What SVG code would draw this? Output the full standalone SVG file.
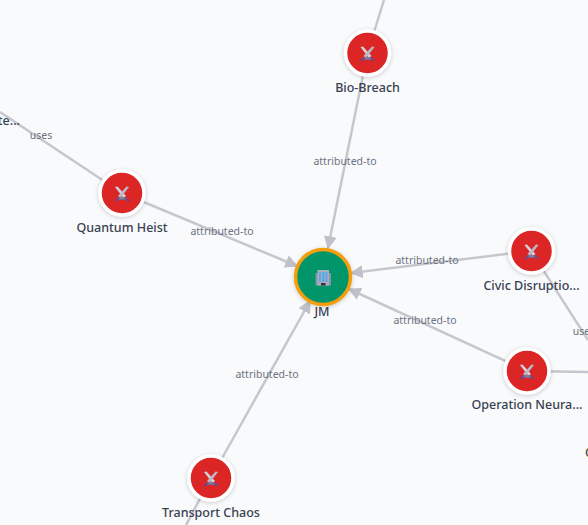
<svg xmlns="http://www.w3.org/2000/svg" width="588" height="525" viewBox="0 0 588 525">
<style>
.e{stroke:#c6c7ce;stroke-width:2.500;fill:none}
.l{font:10.500px "Noto Sans",sans-serif;fill:#6b7280;text-anchor:middle}
.n{font:500 12.500px "Noto Sans",sans-serif;fill:#374151;text-anchor:middle}
.c{fill:#dc2626;stroke:#fff;stroke-width:3.500;filter:url(#s)}
</style>
<defs>
<filter id="s" x="-30%" y="-30%" width="160%" height="160%"><feDropShadow dx="0" dy="1" stdDeviation="2" flood-color="#000" flood-opacity=".2"/></filter>
<marker id="a" viewBox="0 0 10 10" refX="9" refY="5" markerWidth="13" markerHeight="13" markerUnits="userSpaceOnUse" orient="auto"><path d="M0 0L10 5L0 10z" fill="#bfc0c8"/></marker>
<g id="sw">
<path d="M-7-7L-4.500-7.500L4 2L1.500 4z" fill="#d6d2dc"/>
<path d="M7-7L4.500-7.500L-4 2L-1.500 4z" fill="#bdb8c6"/>
<path d="M-5.500 6L-3.500 2.500L-1 4.500L-.5 6zM5.500 6L3.500 2.500L1 4.500L.5 6z" fill="#6a5a8c"/>
<path d="M-2.500 3H2.500V5.500H-2.500z" fill="#857a9f"/>
<path d="M-7 5.500H-4.500V7H-7zM4.500 5.500H7V7H4.500z" fill="#4f46a5"/>
</g>
</defs>
<rect width="588" height="525" fill="#f9fafb"/>
<g id="connectors">
<path class="e" d="M384 0L367.500 53"/>
<path class="e" d="M367.500 53L328 248" marker-end="url(#a)"/>
<path class="e" d="M0 112L122 193"/>
<path class="e" d="M122 193L297 266" marker-end="url(#a)"/>
<path class="e" d="M531 251L351 273" marker-end="url(#a)"/>
<path class="e" d="M531 251L588 340"/>
<path class="e" d="M527 371L349 289" marker-end="url(#a)"/>
<path class="e" d="M527 371L588 372"/>
<path class="e" d="M211 478L310 301" marker-end="url(#a)"/>
<path class="e" d="M211 478L186 525"/>
<text class="l" x="345" y="164.500">attributed-to</text>
<text class="l" x="222" y="234.500">attributed-to</text>
<text class="l" x="427" y="264">attributed-to</text>
<text class="l" x="425" y="324">attributed-to</text>
<text class="l" x="267" y="378">attributed-to</text>
<text class="l" x="41" y="139">uses</text>
<text class="l" x="584" y="335">uses</text>
</g>
<g id="node-jm"><circle cx="323" cy="277" r="27.500" fill="#059669" stroke="#f59e0b" stroke-width="3.500" filter="url(#s)"/>
<path d="M315.500 273H331V285.500H315.500z" fill="#8d93a6"/><path d="M317.500 270H329V285.500H317.500z" fill="#a9aebf"/>
<path d="M319 272H321V282H319zM322 272H324.500V282H322zM325.500 272H327.500V282H325.500z" fill="#5aa9e6"/><path d="M321 283H325.500V285.500H321z" fill="#333"/>
<text class="n" x="322" y="316">JM</text></g>
<g id="node-bio"><circle class="c" cx="367.500" cy="53" r="22"/><use href="#sw" x="367.500" y="54"/><text class="n" x="367.500" y="92">Bio-Breach</text></g>
<g id="node-quantum"><circle class="c" cx="122" cy="193" r="22"/><use href="#sw" x="122" y="194"/><text class="n" x="122" y="232">Quantum Heist</text></g>
<g id="node-civic"><circle class="c" cx="531.500" cy="251" r="22"/><use href="#sw" x="531.500" y="252"/><text class="n" x="531.500" y="290">Civic Disruptio...</text></g>
<g id="node-operation"><circle class="c" cx="527" cy="371" r="22"/><use href="#sw" x="527" y="372"/><text class="n" x="527" y="409">Operation Neura...</text></g>
<g id="node-transport"><circle class="c" cx="211" cy="478" r="22"/><use href="#sw" x="211" y="479"/><text class="n" x="211" y="517">Transport Chaos</text></g>
<g id="node-left"><text class="n" x="20" y="125" style="text-anchor:end">te...</text></g>
<g id="node-right"><text class="n" x="585" y="457" style="text-anchor:start;fill:#5a4a30">O</text></g>
</svg>
